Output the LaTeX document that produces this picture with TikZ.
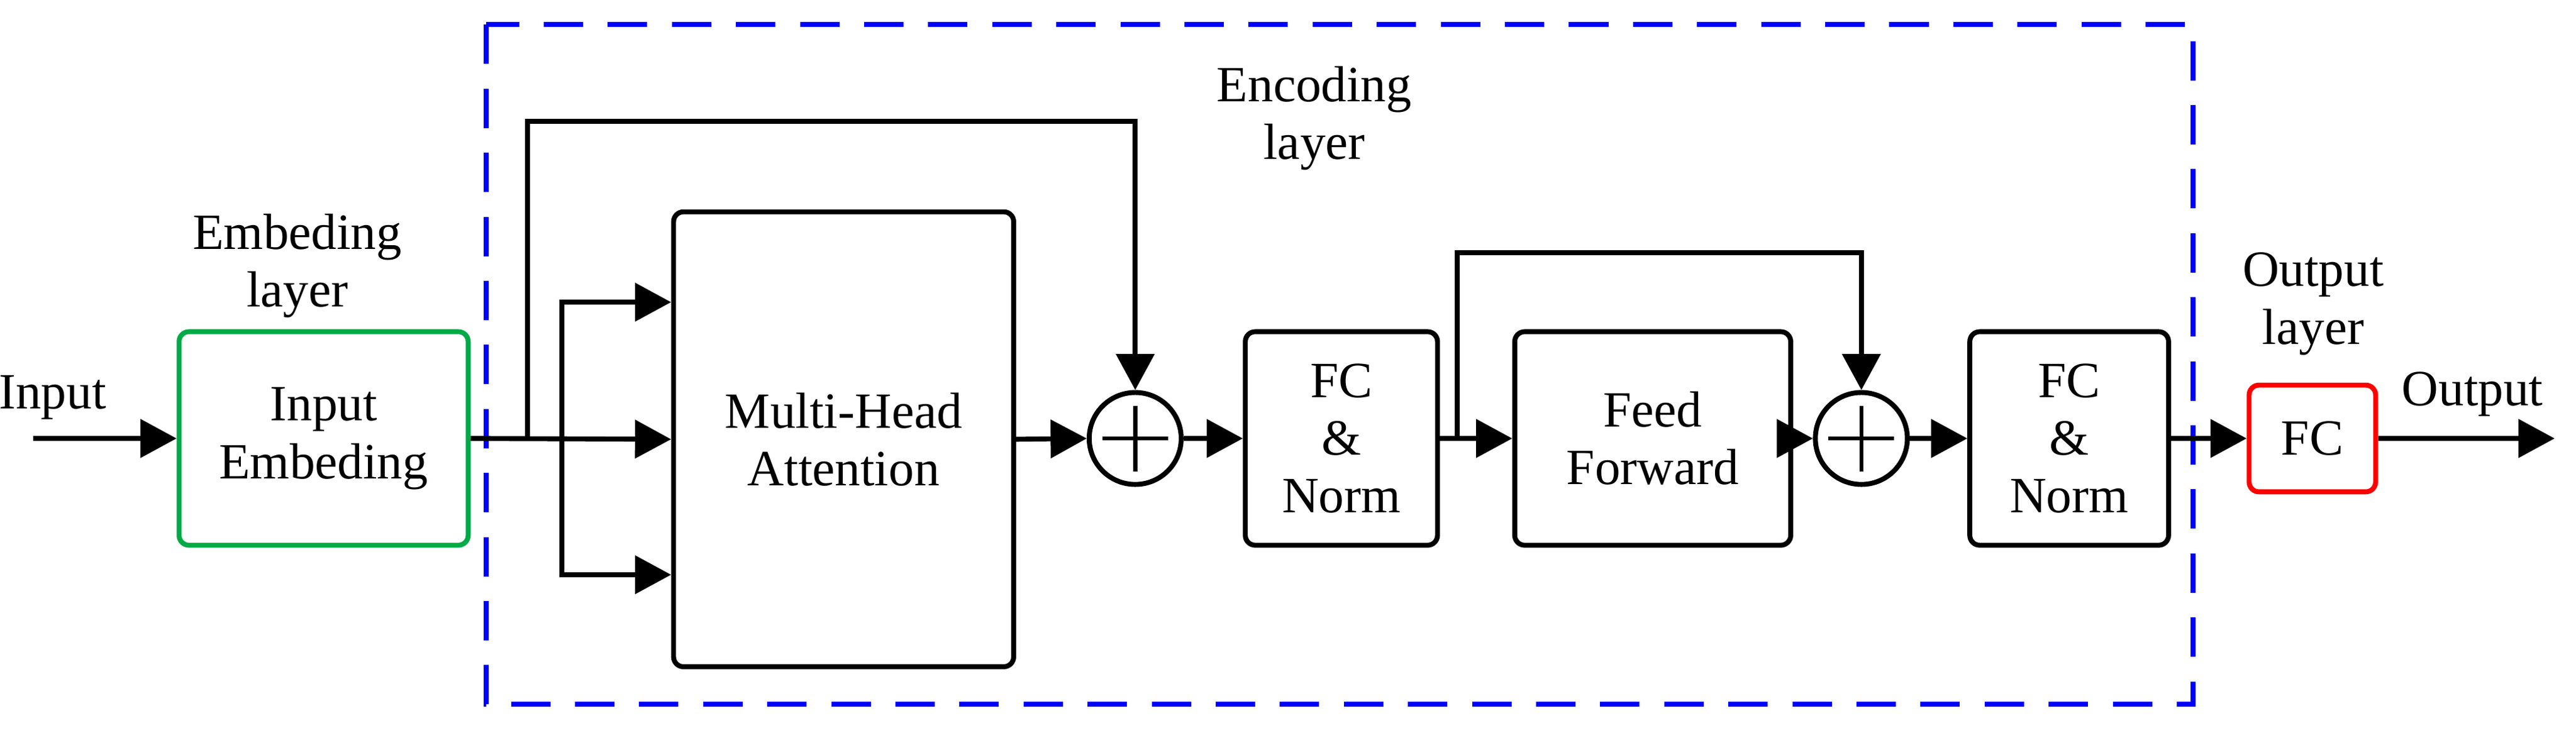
\documentclass[tikz,border=0pt]{standalone}
\usepackage{fontspec}
\setmainfont{Liberation Serif}
\usetikzlibrary{arrows.meta,calc}
\begin{document}
\begin{tikzpicture}[x=1mm,y=-1mm,
  font=\fontsize{88}{100}\selectfont,
  line width=3mm,
  box/.style={draw,rounded corners=6mm,inner sep=0,align=center},
  arr/.style={-{Triangle[length=22mm,width=23mm]}},
  sum/.style={draw,circle,minimum size=56mm,inner sep=0},
  lbl/.style={align=center,inner sep=0}]
\useasboundingbox (0,0) rectangle (1568,446);
\draw[blue,dashed,dash pattern=on 24mm off 15mm,line width=3mm] (296,15) rectangle (1335,429);
\node[box,draw={rgb,255:red,0;green,170;blue,70},minimum width=176mm,minimum height=130mm] (emb) at (197,267) {Input\\Embeding};
\node[box,minimum width=207mm,minimum height=277mm] (mha) at (513.5,267.5) {Multi-Head\\Attention};
\node[sum] (s1) at (691,267) {};
\draw[line width=2.5mm] ($(s1)+(-20,0)$) -- ($(s1)+(20,0)$) ($(s1)+(0,-20)$) -- ($(s1)+(0,20)$);
\node[box,minimum width=117mm,minimum height=130mm] (fc1) at (816.5,267) {FC\\\&\\Norm};
\node[box,minimum width=168mm,minimum height=130mm] (ff) at (1006,267) {Feed\\Forward};
\node[sum] (s2) at (1133,267) {};
\draw[line width=2.5mm] ($(s2)+(-20,0)$) -- ($(s2)+(20,0)$) ($(s2)+(0,-20)$) -- ($(s2)+(0,20)$);
\node[box,minimum width=121mm,minimum height=130mm] (fc2) at (1259.5,267) {FC\\\&\\Norm};
\node[box,draw=red,minimum width=77mm,minimum height=65mm] (fc3) at (1407.5,267) {FC};
\coordinate (in) at (20,267);
\coordinate (out) at (1555,267);
\coordinate (b1) at (321,267);
\coordinate (b2) at (342,267);
\coordinate (b3) at (887,267);
\node[lbl] (tin) at (32,242) {Input};
\node[lbl] (tout) at (1505,240) {Output};
\node[lbl] (temb) at (181,162) {Embeding\\layer};
\node[lbl] (tenc) at (800,72) {Encoding\\layer};
\node[lbl] (tol) at (1408,185) {Output\\layer};
\draw[arr] (in) -- (emb.west);
\draw[arr] (emb.east) -- (mha.west);
\draw[arr] (b1) |- (s1.north |- 0,74) -- (s1.north);
\draw[arr] (b2) |- (mha.west |- 0,184);
\draw[arr] (b2) |- (mha.west |- 0,350);
\draw[arr] (mha.east) -- (s1.west);
\draw[arr] (s1.east) -- (fc1.west);
\draw[arr] (fc1.east) -- (ff.west);
\draw[arr] (b3) |- (s2.north |- 0,154) -- (s2.north);
\draw[arr] (ff.east) -- (s2.west);
\draw[arr] (s2.east) -- (fc2.west);
\draw[arr] (fc2.east) -- (fc3.west);
\draw[arr] (fc3.east) -- (out);
\end{tikzpicture}
\end{document}
